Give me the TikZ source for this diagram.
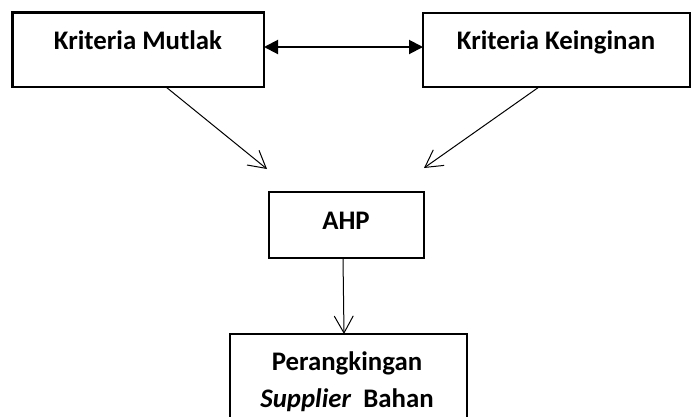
\documentclass[tikz,border=0pt]{standalone}
\usepackage{fontspec}
\setmainfont{Carlito}
\usetikzlibrary{arrows.meta}
\begin{document}
\begin{tikzpicture}[x=1pt,y=-1pt,
  box/.style={draw=black, line width=2.3pt, rectangle, inner sep=0pt, outer sep=0pt},
  lbl/.style={anchor=base, inner sep=0pt, font=\fontsize{26.8}{32}\selectfont\bfseries},
  thinarrow/.style={draw=black, line width=1pt, -{Straight Barb[length=17pt,width=19pt]}},
  bothways/.style={draw=black, line width=2pt, {Triangle[length=14pt,width=14pt]}-{Triangle[length=14pt,width=14pt]}}]
\clip (0,0) rectangle (691,416);
\useasboundingbox (0,0) rectangle (691,416);
% boxes
\node[box, minimum width=251.5pt, minimum height=74.5pt] (m) at (138.25,49.75) {};
\node[box, minimum width=267pt, minimum height=74pt] (k) at (556.5,50) {};
\node[box, minimum width=155pt, minimum height=66pt] (a) at (346.5,225) {};
\node[box, minimum width=237pt, minimum height=106pt] (p) at (348.5,387) {};
% texts
\node[lbl] (mt) at (138,49) {Kriteria Mutlak};
\node[lbl] (kt) at (556,49) {Kriteria Keinginan};
\node[lbl] (at) at (346,229) {AHP};
\node[lbl] (pt1) at (347,370) {Perangkingan};
\node[lbl] (pt2) at (347,407) {\textit{Supplier}\hspace{6pt} Bahan};
% free arrow ends
\coordinate (t1) at (267,169);
\coordinate (t2) at (424,168);
% connectors
\draw[bothways] ([yshift=2.75pt]m.east) -- ([yshift=3pt]k.west);
\draw[thinarrow] ([xshift=27.75pt]m.south) -- (t1);
\draw[thinarrow] ([xshift=-17.5pt]k.south) -- (t2);
\draw[thinarrow] ([xshift=-3.5pt]a.south) -- ([xshift=-4.5pt]p.north);
\end{tikzpicture}
\end{document}
